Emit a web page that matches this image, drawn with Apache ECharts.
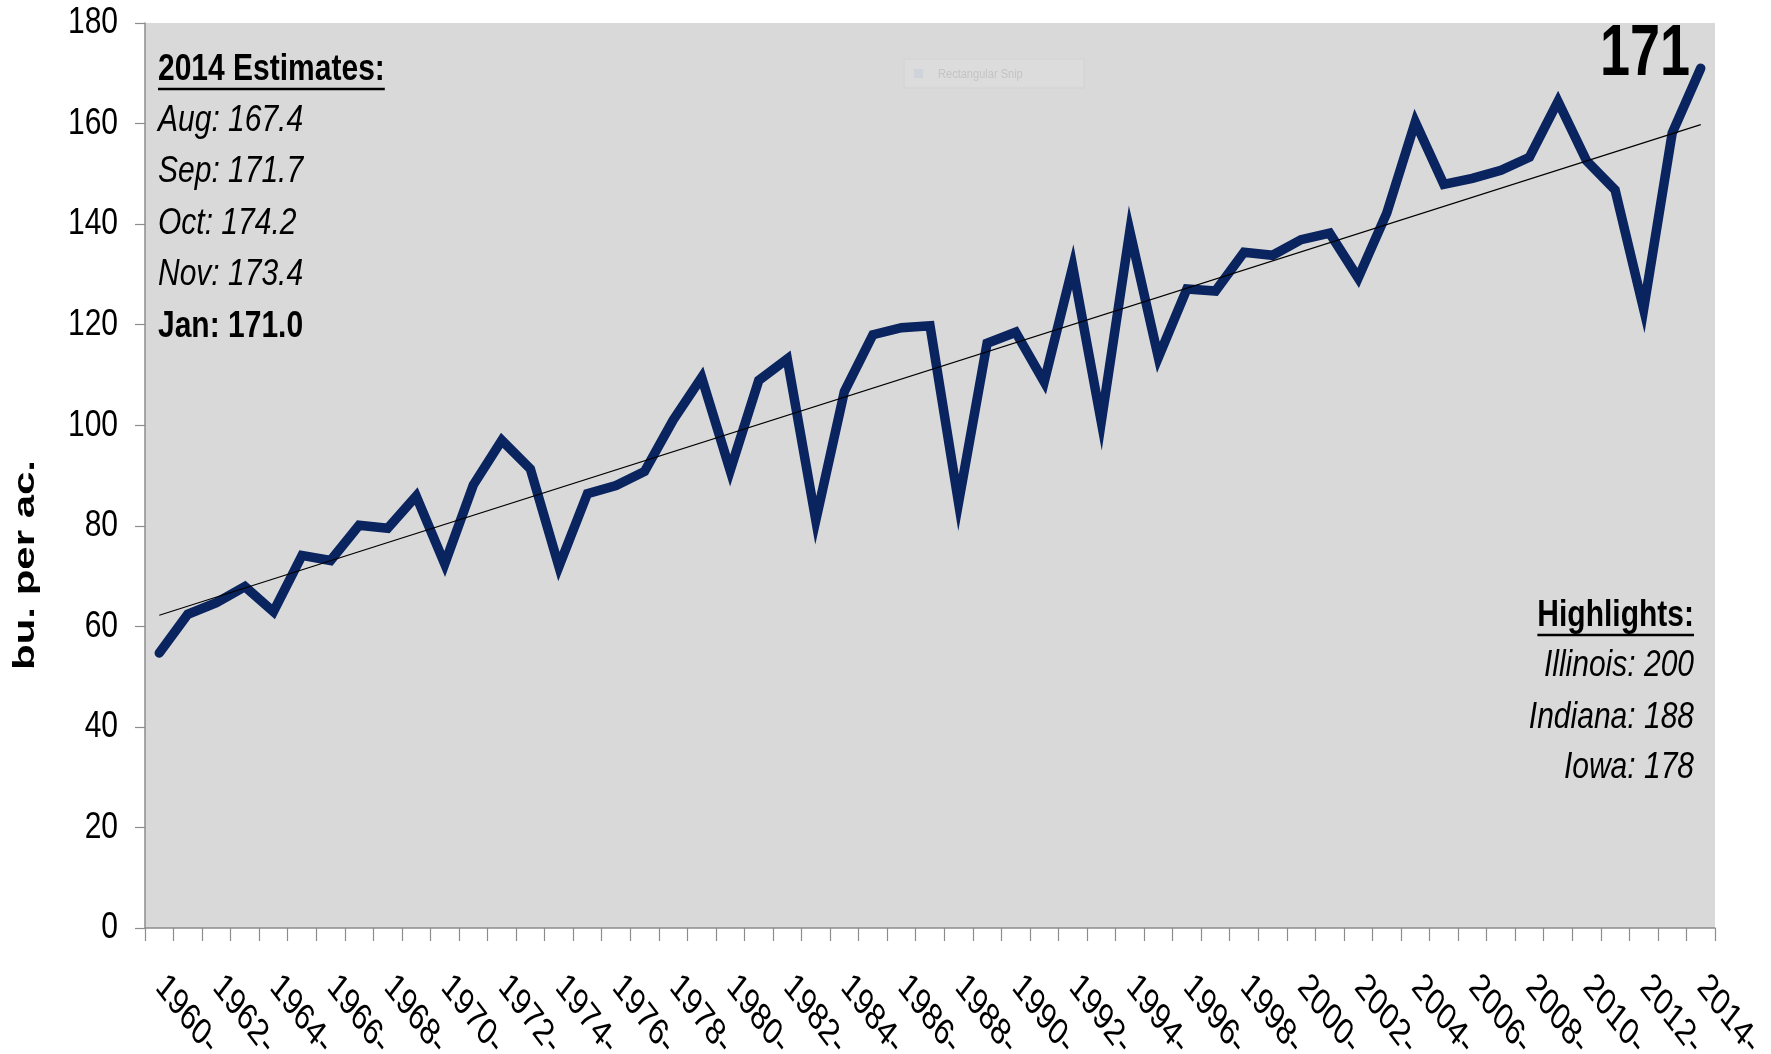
<!DOCTYPE html>
<html>
<head>
<meta charset="utf-8">
<title>Corn yield</title>
<script src="https://cdn.jsdelivr.net/npm/echarts@6/dist/echarts.min.js"></script>
<style>
html,body{margin:0;padding:0;background:#fff;}
#chart{width:1771px;height:1054px;}
</style>
</head>
<body>
<div id="chart"></div>
<script>
// categories (one per year)
var years = ['1960','1961','1962','1963','1964','1965','1966','1967','1968','1969',
             '1970','1971','1972','1973','1974','1975','1976','1977','1978','1979',
             '1980','1981','1982','1983','1984','1985','1986','1987','1988','1989',
             '1990','1991','1992','1993','1994','1995','1996','1997','1998','1999',
             '2000','2001','2002','2003','2004','2005','2006','2007','2008','2009',
             '2010','2011','2012','2013','2014'];
// yield, bu. per ac.
var yields = [54.7, 62.4, 64.7, 67.9, 62.9, 74.1, 73.1, 80.1, 79.5, 85.9,
              72.4, 88.1, 97.0, 91.3, 71.9, 86.4, 88.0, 90.8, 101.0, 109.5,
              91.0, 108.9, 113.2, 81.1, 106.7, 118.0, 119.4, 119.8, 84.6, 116.3,
              118.5, 108.6, 131.5, 100.7, 138.6, 113.5, 127.1, 126.7, 134.4, 133.8,
              136.9, 138.2, 129.3, 142.2, 160.3, 147.9, 149.1, 150.7, 153.3, 164.4,
              152.6, 146.8, 123.1, 158.1, 171.0];
// linear trend, value at first and last year
var trendEnds = [62.2, 159.8];
var yMin = 0, yMax = 180, yStep = 20;

var estimatesTitle = '2014 Estimates:';
var estimates = ['Aug: 167.4', 'Sep: 171.7', 'Oct: 174.2', 'Nov: 173.4'];
var finalEstimate = 'Jan: 171.0';
var highlightsTitle = 'Highlights:';
var highlights = ['Illinois: 200', 'Indiana: 188', 'Iowa: 178'];
var lastLabel = '171';
var yName = 'bu. per ac.';

// the source picture is stretched vertically, so text is drawn tall
var FONT = '"Liberation Sans",Arial,sans-serif';
var K = 1.25;

var trend = years.map(function (y, i) {
  if (i === 0) return trendEnds[0];
  if (i === years.length - 1) return trendEnds[1];
  return null;
});

var ctx = document.createElement('canvas').getContext('2d');
function textW(font, s) { ctx.font = font; return ctx.measureText(s).width; }

var chart = echarts.init(document.getElementById('chart'));
chart.setOption({
  animation: false,
  backgroundColor: '#fff',
  grid: { left: 145, right: 56, top: 23, bottom: 126, show: true, backgroundColor: '#d9d9d9', borderWidth: 0 },
  xAxis: {
    type: 'category',
    data: years,
    boundaryGap: true,
    axisLine: { lineStyle: { color: '#8c8c8c', width: 1.5 } },
    axisTick: { show: true, interval: 0, length: 13, lineStyle: { color: '#8c8c8c', width: 1.2 } },
    axisLabel: { show: false },
    splitLine: { show: false }
  },
  yAxis: {
    type: 'value',
    min: yMin, max: yMax, interval: yStep,
    axisLine: { show: true, lineStyle: { color: '#8c8c8c', width: 1.5 } },
    axisTick: { show: true, length: 10, lineStyle: { color: '#8c8c8c', width: 1.2 } },
    axisLabel: { show: false },
    splitLine: { show: false }
  },
  series: [
    {
      type: 'line', data: yields, symbol: 'none',
      lineStyle: { color: '#0a2460', width: 9.5, cap: 'round', join: 'miter' },
      z: 3
    },
    {
      type: 'line', data: trend, connectNulls: true, symbol: 'none',
      lineStyle: { color: '#000', width: 1.2 },
      z: 4
    }
  ]
});

var zr = chart.getZr();
function put(opts) { zr.add(new echarts.graphic.Text(opts)); }
// text centred on cy (cap middle), drawn K times taller
function tall(s, x, cy, font, align, k) {
  put({ x: x, y: cy, scaleY: k || K, z: 100,
        style: { text: s, font: font, fill: '#000', align: align || 'left', verticalAlign: 'middle' } });
}

// y tick labels
for (var v = yMin; v <= yMax; v += yStep) {
  var py = chart.convertToPixel({ yAxisIndex: 0 }, v);
  tall(String(v), 118, py, '30px ' + FONT, 'right');
}

// x tick labels, rotated 45 deg then stretched
var ang = Math.PI / 4, KX = 1.3;
years.forEach(function (y, i) {
  if (i % 2) return;
  var px = chart.convertToPixel({ xAxisIndex: 0 }, y);
  put({
    x: px + 1, y: 981, z: 100,
    scaleX: Math.cos(ang), scaleY: KX * Math.cos(ang),
    skewX: Math.atan(-Math.tan(ang) / KX), skewY: -Math.atan(KX * Math.tan(ang)),
    style: { text: y + '-', font: '29px ' + FONT, fill: '#000', align: 'left', verticalAlign: 'middle' }
  });
});

var boldF = 'bold 30px ' + FONT;
var italF = 'italic 30px ' + FONT;

// left block
tall(estimatesTitle, 158, 69.5, boldF);
zr.add(new echarts.graphic.Line({ z: 100, shape: { x1: 158, y1: 89, x2: 158 + textW(boldF, estimatesTitle), y2: 89 }, style: { stroke: '#000', lineWidth: 2.5 } }));
var centers = [120.5, 171.5, 223.5, 274.5];
estimates.forEach(function (s, i) { tall(s, 158, centers[i], italF); });
tall(finalEstimate, 158, 326.5, boldF);

// right block
tall(highlightsTitle, 1694, 615.5, boldF, 'right');
zr.add(new echarts.graphic.Line({ z: 100, shape: { x1: 1694 - textW(boldF, highlightsTitle), y1: 635, x2: 1694, y2: 635 }, style: { stroke: '#000', lineWidth: 2.5 } }));
var hc = [665.5, 717.5, 767.5];
highlights.forEach(function (s, i) { tall(s, 1694, hc[i], italF, 'right'); });

// big final value
tall(lastLabel, 1690, 55, 'bold 54px ' + FONT, 'right', 1.345);

// y axis title, stretched along its length
var yF = 'bold 30px ' + FONT;
put({ x: 26, y: 565, rotation: Math.PI / 2, scaleX: 210 / textW(yF, yName), z: 100,
      style: { text: yName, font: yF, fill: '#000', align: 'center', verticalAlign: 'middle' } });

// faint leftover of a screen snip button
zr.add(new echarts.graphic.Rect({ z: 50, shape: { x: 904, y: 59, width: 180, height: 29 }, style: { fill: '#dcdcdc', stroke: '#d2d2d2', lineWidth: 1 } }));
zr.add(new echarts.graphic.Rect({ z: 51, shape: { x: 914, y: 69, width: 9, height: 9 }, style: { fill: '#cfd3da' } }));
put({ x: 938, y: 74, z: 51, scaleX: 0.85, style: { text: 'Rectangular Snip', font: '13px ' + FONT, fill: '#c4c4c4', align: 'left', verticalAlign: 'middle' } });
</script>
</body>
</html>
